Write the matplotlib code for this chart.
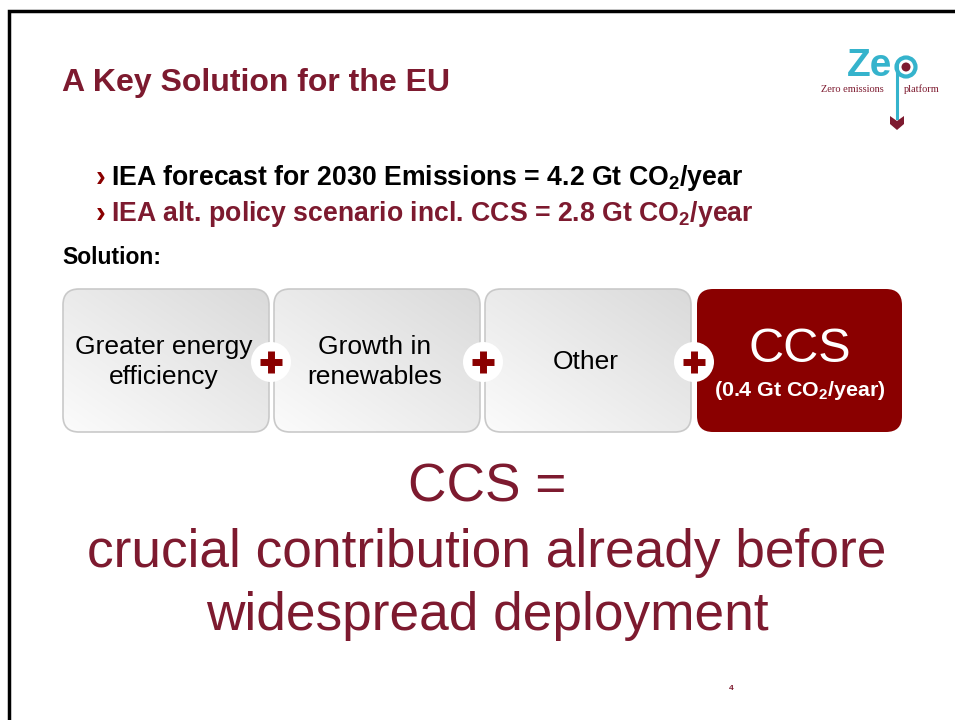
import numpy as np
import matplotlib.pyplot as plt
from matplotlib.patches import FancyBboxPatch, Circle, Polygon

plt.rcParams['font.family'] = ['Liberation Sans', 'DejaVu Sans']
plt.rcParams['mathtext.fontset'] = 'custom'
plt.rcParams['mathtext.rm'] = 'Liberation Sans'
plt.rcParams['mathtext.bf'] = 'Liberation Sans:bold'

RED = '#7d1a2f'
DARK = '#8a0000'
TEAL = '#35b3cc'

title = "A Key Solution for the EU"
bullets = [r"IEA forecast for 2030 Emissions = 4.2 Gt CO$_\mathbf{2}$/year",
           r"IEA alt. policy scenario incl. CCS = 2.8 Gt CO$_\mathbf{2}$/year"]
bullet_colors = ['black', RED]
solution_label = "Solution:"
boxes = ["Greater energy\nefficiency", "Growth in\nrenewables", "Other"]
ccs_title = "CCS"
ccs_sub = r"(0.4 Gt CO$_\mathbf{2}$/year)"
big_lines = ["CCS =", "crucial contribution already before", "widespread deployment"]
page_no = "4"


def gray_box(ax, x0, y0, w, h):
    patch = FancyBboxPatch((x0, y0), w, h, boxstyle="round,pad=0,rounding_size=16",
                           fc='none', ec='#c9c9c9', lw=1.2, zorder=3)
    ax.add_patch(patch)
    # diagonal gradient: darker at top right, nearly white at bottom left
    gx, gy = np.meshgrid(np.linspace(0, 1, 60), np.linspace(0, 1, 60))
    t = 0.5 * gx + 0.5 * (1 - gy)
    v = 0.985 - 0.13 * t
    rgb = np.dstack([v, v, v])
    img = ax.imshow(rgb, extent=(x0, x0 + w, y0 + h, y0), origin='upper', zorder=2,
                    interpolation='bilinear')
    img.set_clip_path(patch)


def plus(ax, cx, cy):
    ax.add_patch(Circle((cx, cy), 20, fc='white', ec='none', zorder=5))
    ax.plot([cx - 11, cx + 11], [cy, cy], color=DARK, lw=5, solid_capstyle='butt', zorder=6)
    ax.plot([cx, cx], [cy - 11, cy + 11], color=DARK, lw=5, solid_capstyle='butt', zorder=6)


fig = plt.figure(figsize=(9.55, 7.2), dpi=100)
ax = fig.add_axes([0, 0, 1, 1])
ax.set_xlim(0, 955)
ax.set_ylim(720, 0)
ax.axis('off')

# slide frame
ax.plot([8.5, 8.5, 955], [720, 11, 11], color='black', lw=2.5, solid_joinstyle='miter')

ax.text(62, 83, title, fontsize=23, fontweight='bold', color=RED, va='center')

# logo
ax.text(847, 66, "Ze", fontsize=28, fontweight='bold', color=TEAL, va='center')
ax.plot([897, 897], [64, 118], color=TEAL, lw=2.2)
ax.add_patch(Circle((906, 67), 9.5, fc='white', ec=TEAL, lw=3))
ax.add_patch(Circle((906, 67), 4.5, fc=RED, ec='none'))
ax.add_patch(Polygon([[890, 116], [897, 121], [904, 116], [904, 124], [897, 130], [890, 124]],
                     closed=True, fc=RED, ec='none'))
ax.text(852, 89, "Zero emissions", fontsize=7.5, family='Liberation Serif', color=RED,
        ha='center', va='center')
ax.text(922, 89, "platform", fontsize=7.5, family='Liberation Serif', color=RED,
        ha='center', va='center')

for i, (txt, col) in enumerate(zip(bullets, bullet_colors)):
    y = 178 + 36 * i
    ax.text(96, y, "\u203a", fontsize=21, fontweight='bold', color=DARK, va='center')
    ax.text(111, y, txt, fontsize=19.2, fontweight='bold', color=col, va='center')

ax.text(62, 258, solution_label, fontsize=16.5, fontweight='bold', color='black', va='center')

xs = [63, 274, 485]
for x0, lab in zip(xs, boxes):
    gray_box(ax, x0, 289, 206, 143)
    ax.text(x0 + 101, 362, lab, fontsize=19, ha='center', va='center',
            linespacing=1.35, zorder=4)

ax.add_patch(FancyBboxPatch((697, 289), 205, 143, boxstyle="round,pad=0,rounding_size=16",
                            fc=DARK, ec='none', zorder=2))
ax.text(800, 349, ccs_title, fontsize=35, color='white', ha='center', va='center', zorder=4)
ax.text(800, 391, ccs_sub, fontsize=15.4, fontweight='bold', color='white',
        ha='center', va='center', zorder=4)

for cx in [271, 483, 694]:
    plus(ax, cx, 362)

for y, line in zip([487, 553, 616], big_lines):
    ax.text(487, y, line, fontsize=38.3, color=RED, ha='center', va='center')

ax.text(731, 688, page_no, fontsize=6, fontweight='bold', color=RED, ha='center', va='center')

fig.savefig('out.png', dpi=100)
